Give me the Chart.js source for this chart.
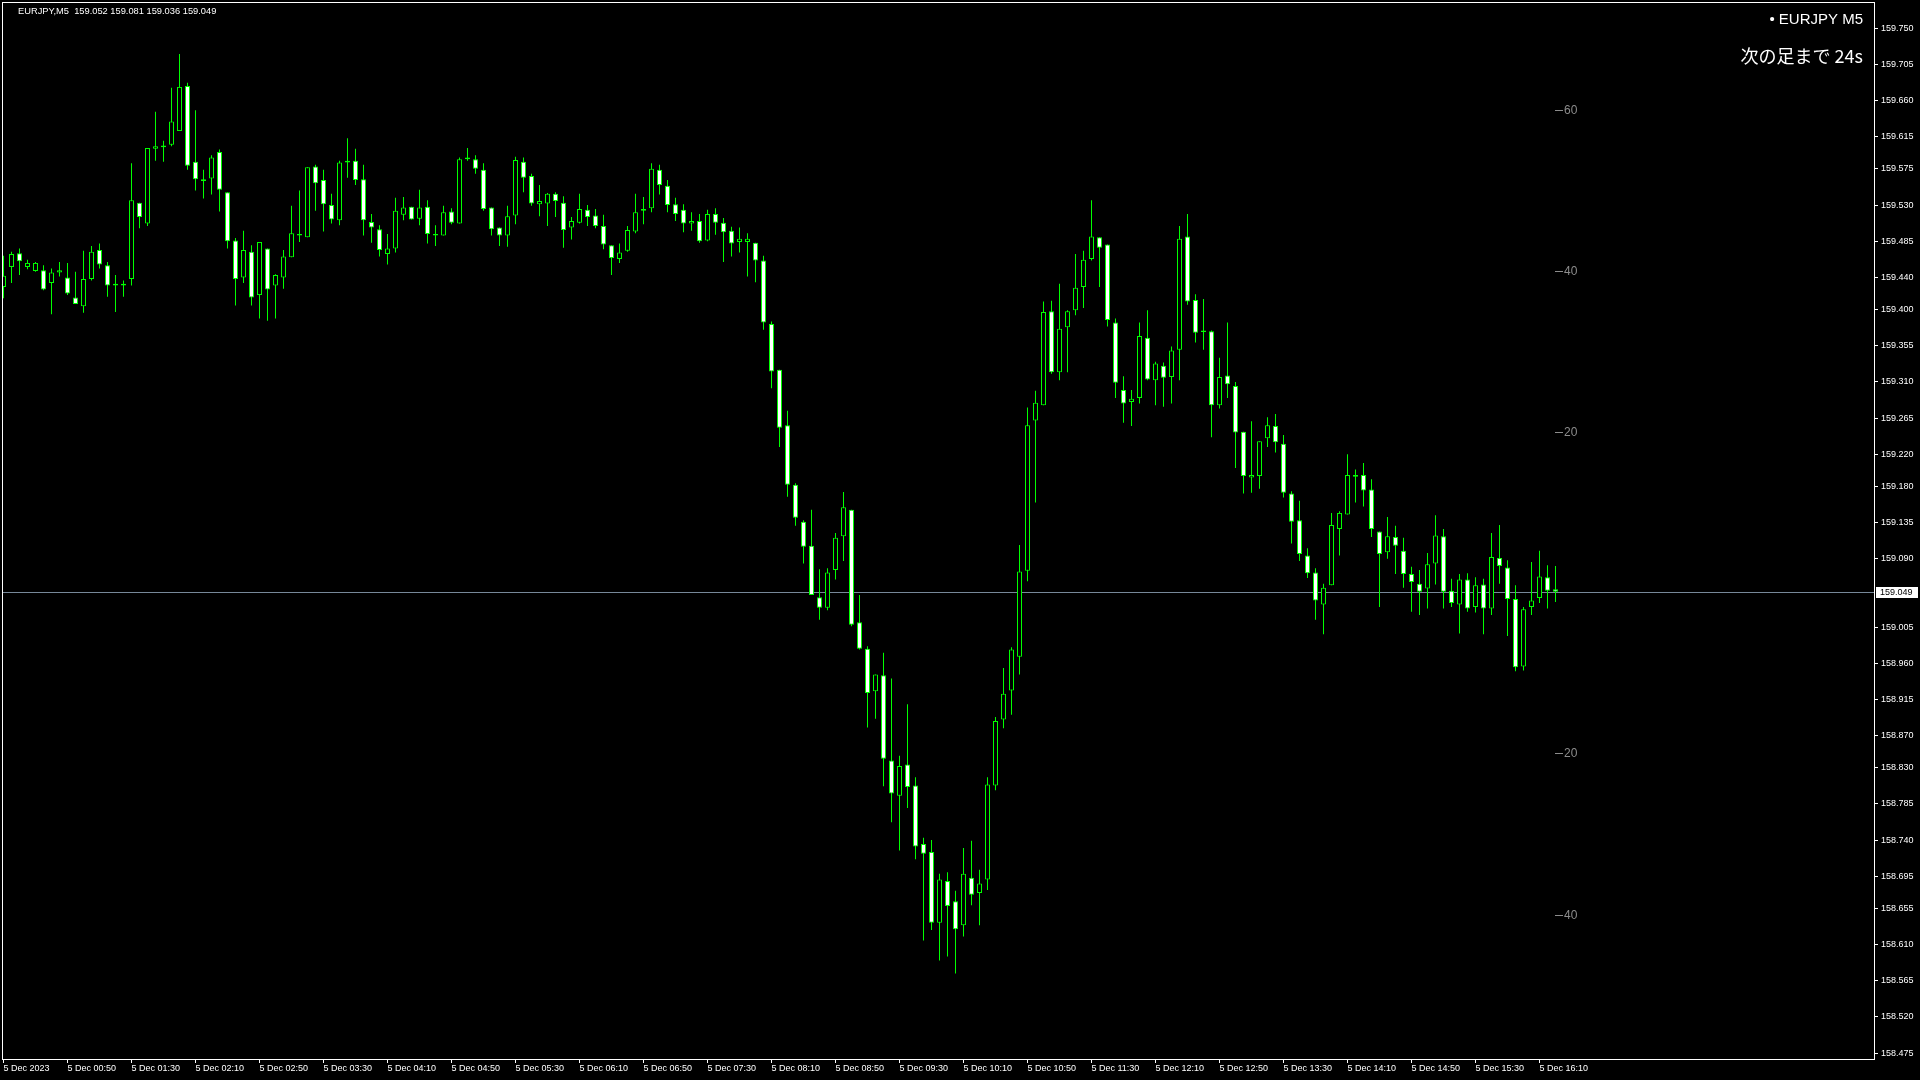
<!DOCTYPE html>
<html>
<head>
<meta charset="utf-8">
<script src="https://cdn.jsdelivr.net/npm/chart.js@4.4.1/dist/chart.umd.min.js"></script>
<style>
  html, body { margin: 0; padding: 0; background: #000; }
  canvas { display: block; background: #000; }
</style>
</head>
<body>
<canvas id="chart" width="1920" height="1080"></canvas>
<script>
// EURJPY M5, 5 Dec 2023, one candle every 5 minutes starting 00:10
const tickLabels = ['5 Dec 2023', '5 Dec 00:50', '5 Dec 01:30', '5 Dec 02:10', '5 Dec 02:50', '5 Dec 03:30',
    '5 Dec 04:10', '5 Dec 04:50', '5 Dec 05:30', '5 Dec 06:10', '5 Dec 06:50', '5 Dec 07:30', '5 Dec 08:10',
    '5 Dec 08:50', '5 Dec 09:30', '5 Dec 10:10', '5 Dec 10:50', '5 Dec 11:30', '5 Dec 12:10', '5 Dec 12:50',
    '5 Dec 13:30', '5 Dec 14:10', '5 Dec 14:50', '5 Dec 15:30', '5 Dec 16:10'];

const priceTicks = [159.750, 159.705, 159.660, 159.615, 159.575, 159.530, 159.485, 159.440, 159.400, 159.355,
    159.310, 159.265, 159.220, 159.180, 159.135, 159.090, 159.005, 158.960, 158.915, 158.870,
    158.830, 158.785, 158.740, 158.695, 158.655, 158.610, 158.565, 158.520, 158.475];

const opens = [
    159.428, 159.453, 159.470, 159.453, 159.448, 159.449, 159.433, 159.446, 159.440, 159.415,
    159.404, 159.438, 159.474, 159.455, 159.432, 159.430, 159.438, 159.533, 159.507, 159.600,
    159.602, 159.605, 159.622, 159.678, 159.584, 159.562, 159.563, 159.596, 159.546, 159.486,
    159.440, 159.472, 159.418, 159.476, 159.430, 159.440, 159.465, 159.492, 159.490, 159.578,
    159.561, 159.530, 159.511, 159.583, 159.585, 159.562, 159.509, 159.500, 159.469, 159.476,
    159.518, 159.528, 159.513, 159.528, 159.494, 159.492, 159.522, 159.507, 159.587, 159.587,
    159.574, 159.527, 159.502, 159.492, 159.517, 159.584, 159.566, 159.531, 159.532, 159.544,
    159.533, 159.502, 159.508, 159.524, 159.517, 159.504, 159.480, 159.463, 159.473, 159.497,
    159.523, 159.526, 159.574, 159.554, 159.531, 159.524, 159.507, 159.510, 159.486, 159.519,
    159.508, 159.498, 159.484, 159.484, 159.483, 159.461, 159.382, 159.325, 159.256, 159.182,
    159.136, 159.106, 159.042, 159.029, 159.076, 159.118, 159.151, 159.011, 158.978, 158.925,
    158.945, 158.839, 158.795, 158.834, 158.808, 158.735, 158.725, 158.637, 158.689, 158.664,
    158.634, 158.693, 158.674, 158.691, 158.808, 158.890, 158.926, 158.968, 159.075, 159.262,
    159.281, 159.398, 159.322, 159.378, 159.399, 159.428, 159.463, 159.490, 159.481, 159.384,
    159.300, 159.285, 159.290, 159.365, 159.312, 159.330, 159.316, 159.350, 159.491, 159.412,
    159.374, 159.373, 159.281, 159.318, 159.305, 159.248, 159.191, 159.193, 159.240, 159.255,
    159.233, 159.171, 159.138, 159.094, 159.073, 159.033, 159.057, 159.127, 159.145, 159.192,
    159.194, 159.176, 159.124, 159.098, 159.117, 159.100, 159.071, 159.059, 159.053, 159.084,
    159.118, 159.050, 159.033, 159.064, 159.030, 159.058, 159.028, 159.091, 159.079, 159.040,
    158.956, 159.030, 159.041, 159.067, 159.052];

const highs = [
    159.467, 159.472, 159.476, 159.462, 159.459, 159.455, 159.451, 159.459, 159.458, 159.447,
    159.473, 159.479, 159.482, 159.459, 159.443, 159.436, 159.582, 159.533, 159.601, 159.646,
    159.610, 159.676, 159.718, 159.682, 159.648, 159.574, 159.592, 159.599, 159.546, 159.489,
    159.498, 159.480, 159.484, 159.476, 159.444, 159.474, 159.529, 159.548, 159.577, 159.580,
    159.574, 159.544, 159.585, 159.613, 159.600, 159.580, 159.519, 159.505, 159.494, 159.539,
    159.540, 159.528, 159.549, 159.536, 159.505, 159.529, 159.526, 159.589, 159.601, 159.592,
    159.582, 159.527, 159.502, 159.529, 159.590, 159.589, 159.569, 159.555, 159.545, 159.546,
    159.541, 159.515, 159.544, 159.530, 159.525, 159.518, 159.480, 159.482, 159.504, 159.544,
    159.540, 159.582, 159.580, 159.561, 159.539, 159.531, 159.521, 159.519, 159.524, 159.526,
    159.514, 159.503, 159.502, 159.495, 159.483, 159.467, 159.385, 159.325, 159.274, 159.184,
    159.138, 159.151, 159.077, 159.078, 159.122, 159.173, 159.151, 159.045, 158.981, 158.946,
    158.973, 158.941, 158.845, 158.909, 158.818, 158.743, 158.740, 158.698, 158.700, 158.677,
    158.730, 158.739, 158.703, 158.818, 158.893, 158.954, 158.980, 159.107, 159.278, 159.299,
    159.410, 159.411, 159.432, 159.399, 159.469, 159.473, 159.536, 159.490, 159.481, 159.389,
    159.317, 159.300, 159.384, 159.399, 159.335, 159.334, 159.354, 159.504, 159.519, 159.419,
    159.413, 159.374, 159.340, 159.384, 159.310, 159.248, 159.261, 159.236, 159.266, 159.270,
    159.244, 159.174, 159.162, 159.103, 159.078, 159.059, 159.147, 159.149, 159.220, 159.201,
    159.209, 159.189, 159.124, 159.142, 159.131, 159.116, 159.080, 159.076, 159.097, 159.144,
    159.127, 159.065, 159.071, 159.072, 159.067, 159.065, 159.122, 159.132, 159.088, 159.057,
    159.030, 159.086, 159.100, 159.082, 159.081];

const lows = [
    159.414, 159.433, 159.443, 159.450, 159.447, 159.424, 159.394, 159.441, 159.418, 159.407,
    159.396, 159.436, 159.451, 159.416, 159.397, 159.416, 159.430, 159.501, 159.504, 159.585,
    159.584, 159.603, 159.622, 159.574, 159.548, 159.538, 159.543, 159.522, 159.476, 159.405,
    159.433, 159.405, 159.389, 159.386, 159.389, 159.426, 159.465, 159.484, 159.490, 159.523,
    159.497, 159.507, 159.505, 159.564, 159.555, 159.492, 159.483, 159.466, 159.456, 159.471,
    159.511, 159.512, 159.505, 159.482, 159.479, 159.492, 159.506, 159.507, 159.585, 159.569,
    159.523, 159.492, 159.479, 159.478, 159.506, 159.546, 159.529, 159.516, 159.504, 159.515,
    159.477, 159.487, 159.507, 159.504, 159.501, 159.475, 159.443, 159.458, 159.472, 159.495,
    159.506, 159.521, 159.543, 159.521, 159.510, 159.496, 159.498, 159.483, 159.485, 159.493,
    159.459, 159.466, 159.471, 159.441, 159.434, 159.375, 159.302, 159.229, 159.167, 159.131,
    159.084, 159.045, 159.014, 159.026, 159.064, 159.087, 159.006, 158.977, 158.880, 158.891,
    158.807, 158.762, 158.727, 158.780, 158.716, 158.615, 158.628, 158.590, 158.595, 158.574,
    158.620, 158.659, 158.634, 158.678, 158.802, 158.879, 158.896, 158.946, 159.062, 159.160,
    159.281, 159.320, 159.312, 159.322, 159.393, 159.402, 159.461, 159.428, 159.379, 159.290,
    159.259, 159.255, 159.283, 159.312, 159.281, 159.279, 159.283, 159.312, 159.406, 159.359,
    159.350, 159.241, 159.277, 159.290, 159.203, 159.171, 159.172, 159.177, 159.229, 159.222,
    159.166, 159.109, 159.087, 159.066, 159.014, 158.996, 159.057, 159.094, 159.145, 159.160,
    159.155, 159.117, 159.030, 159.090, 159.071, 159.054, 159.024, 159.020, 159.028, 159.058,
    159.028, 159.030, 158.997, 159.024, 159.023, 158.996, 159.020, 159.059, 158.994, 158.950,
    158.951, 159.020, 159.035, 159.028, 159.036];

const closes = [
    159.442, 159.469, 159.460, 159.458, 159.458, 159.425, 159.446, 159.449, 159.420, 159.407,
    159.438, 159.472, 159.456, 159.430, 159.430, 159.432, 159.536, 159.515, 159.601, 159.603,
    159.604, 159.634, 159.677, 159.579, 159.562, 159.560, 159.589, 159.549, 159.485, 159.438,
    159.474, 159.415, 159.484, 159.425, 159.443, 159.466, 159.495, 159.494, 159.577, 159.557,
    159.531, 159.512, 159.583, 159.585, 159.561, 159.511, 159.502, 159.474, 159.476, 159.523,
    159.527, 159.512, 159.527, 159.494, 159.492, 159.521, 159.508, 159.587, 159.589, 159.575,
    159.525, 159.500, 159.492, 159.516, 159.586, 159.564, 159.532, 159.535, 159.544, 159.535,
    159.499, 159.510, 159.525, 159.515, 159.504, 159.481, 159.464, 159.471, 159.499, 159.521,
    159.525, 159.575, 159.555, 159.530, 159.519, 159.507, 159.510, 159.485, 159.519, 159.508,
    159.496, 159.482, 159.488, 159.488, 159.461, 159.384, 159.323, 159.253, 159.182, 159.141,
    159.105, 159.045, 159.029, 159.073, 159.116, 159.154, 159.008, 158.978, 158.923, 158.946,
    158.841, 158.798, 158.832, 158.806, 158.732, 158.723, 158.637, 158.691, 158.658, 158.629,
    158.698, 158.672, 158.686, 158.809, 158.888, 158.922, 158.977, 159.074, 159.256, 159.284,
    159.397, 159.322, 159.376, 159.398, 159.427, 159.462, 159.491, 159.477, 159.387, 159.309,
    159.283, 159.289, 159.367, 159.313, 159.333, 159.315, 159.349, 159.488, 159.410, 159.371,
    159.372, 159.281, 159.316, 159.307, 159.247, 159.193, 159.194, 159.236, 159.256, 159.235,
    159.172, 159.136, 159.096, 159.072, 159.038, 159.054, 159.132, 159.147, 159.194, 159.194,
    159.175, 159.127, 159.096, 159.118, 159.106, 159.071, 159.061, 159.049, 159.083, 159.119,
    159.049, 159.035, 159.064, 159.028, 159.057, 159.028, 159.092, 159.081, 159.040, 158.955,
    159.027, 159.038, 159.068, 159.050, 159.049];

// distance marks (pips from the bid) drawn on the right of the plot
const pipLevels = [159.648, 159.448, 159.248, 158.848, 158.647];
const pipLabels = ['60', '40', '20', '20', '40'];

const symbolName = 'EURJPY';
const timeframe = 'M5';
const countdownText = '次の足まで 24s';

Chart.defaults.font.family = "'Liberation Sans', Arial, sans-serif";

const GREEN = '#00ff00';
const last = closes.length - 1;
const bidPrice = closes[last];

const bodies = opens.map((o, i) => ({ x: i, y: [o, closes[i]] }));
const wicks = lows.map((l, i) => ({ x: i, y: [l, highs[i]] }));
const bodyFill = opens.map((o, i) => closes[i] >= o ? '#000000' : '#ffffff');

const mtOverlay = {
    id: 'mtOverlay',
    beforeDatasetsDraw(chart) {
        const { ctx, chartArea: a, scales: { y } } = chart;
        const py = Math.round(y.getPixelForValue(bidPrice)) + 0.5;
        ctx.save();
        ctx.strokeStyle = '#778899';
        ctx.lineWidth = 1;
        ctx.beginPath();
        ctx.moveTo(a.left, py);
        ctx.lineTo(a.right, py);
        ctx.stroke();
        ctx.restore();
    },
    afterDraw(chart) {
        const { ctx, chartArea: a, scales: { y } } = chart;
        ctx.save();
        // frame
        ctx.strokeStyle = '#ffffff';
        ctx.lineWidth = 1;
        ctx.strokeRect(a.left + 0.5, a.top + 0.5, a.right - a.left, a.bottom - a.top);

        // bid label on the price axis
        const py = Math.round(y.getPixelForValue(bidPrice));
        ctx.fillStyle = '#ffffff';
        ctx.fillRect(a.right + 2, py - 5, 42, 11);
        ctx.fillStyle = '#000000';
        ctx.font = "9px 'Liberation Sans', Arial, sans-serif";
        ctx.textBaseline = 'middle';
        ctx.textAlign = 'left';
        ctx.fillText(bidPrice.toFixed(3), a.right + 6, py + 0.5);

        // header
        ctx.fillStyle = '#ffffff';
        ctx.font = "9.3px 'Liberation Sans', Arial, sans-serif";
        const ohlc = [opens[last], highs[last], lows[last], closes[last]].map(v => v.toFixed(3)).join(' ');
        ctx.fillText(symbolName + ',' + timeframe + '  ' + ohlc, 18, 11);

        // top right info
        ctx.textAlign = 'right';
        ctx.font = "15px 'Liberation Sans', Arial, sans-serif";
        ctx.fillText('\u2022 ' + symbolName + ' ' + timeframe, 1863, 20);
        ctx.font = "18px 'Noto Sans CJK JP', sans-serif";
        ctx.fillText(countdownText, 1863, 56);

        // pip distance marks
        ctx.textAlign = 'left';
        ctx.font = "12px 'Liberation Sans', Arial, sans-serif";
        ctx.fillStyle = '#8c8c8c';
        ctx.strokeStyle = '#8c8c8c';
        pipLevels.forEach((p, k) => {
            const yy = Math.round(y.getPixelForValue(p)) + 0.5;
            ctx.beginPath();
            ctx.moveTo(1555, yy);
            ctx.lineTo(1563, yy);
            ctx.stroke();
            ctx.fillText(pipLabels[k], 1564, yy + 0.5);
        });
        ctx.restore();
    }
};

new Chart(document.getElementById('chart'), {
    type: 'bar',
    data: {
        datasets: [{
            label: 'body',
            data: bodies,
            order: 0,
            grouped: false,
            barThickness: 5,
            borderWidth: 1,
            borderColor: GREEN,
            backgroundColor: bodyFill,
            borderSkipped: false,
            inflateAmount: 0
        }, {
            label: 'wick',
            data: wicks,
            order: 1,
            grouped: false,
            barThickness: 1,
            borderWidth: 0,
            backgroundColor: GREEN,
            inflateAmount: 0
        }]
    },
    options: {
        responsive: false,
        animation: false,
        events: [],
        layout: { padding: { left: 2, top: 2, right: 0, bottom: 0 } },
        plugins: {
            legend: { display: false },
            tooltip: { enabled: false }
        },
        scales: {
            x: {
                type: 'linear',
                min: -0.1875,
                max: 233.8125,
                offset: false,
                afterBuildTicks: s => { s.ticks = tickLabels.map((_, k) => ({ value: k * 8 })); },
                afterFit: s => { s.height = 21; s.paddingLeft = 0; s.paddingRight = 0; },
                ticks: {
                    color: '#ffffff',
                    font: { size: 9 },
                    align: 'start',
                    maxRotation: 0,
                    autoSkip: false,
                    padding: 0,
                    callback: (v, k) => tickLabels[k]
                },
                grid: { offset: false, drawOnChartArea: false, drawTicks: true, tickLength: 4, color: '#ffffff' },
                border: { display: false }
            },
            y: {
                position: 'right',
                min: 158.4676,
                max: 159.7826,
                afterBuildTicks: s => { s.ticks = priceTicks.map(v => ({ value: v })); },
                afterFit: s => { s.width = 46; s.paddingTop = 0; s.paddingBottom = 0; },
                ticks: {
                    color: '#ffffff',
                    font: { size: 9 },
                    padding: 3,
                    autoSkip: false,
                    callback: v => v.toFixed(3)
                },
                grid: { drawOnChartArea: false, drawTicks: true, tickLength: 4, color: '#ffffff' },
                border: { display: false }
            }
        }
    },
    plugins: [mtOverlay]
});
</script>
</body>
</html>
